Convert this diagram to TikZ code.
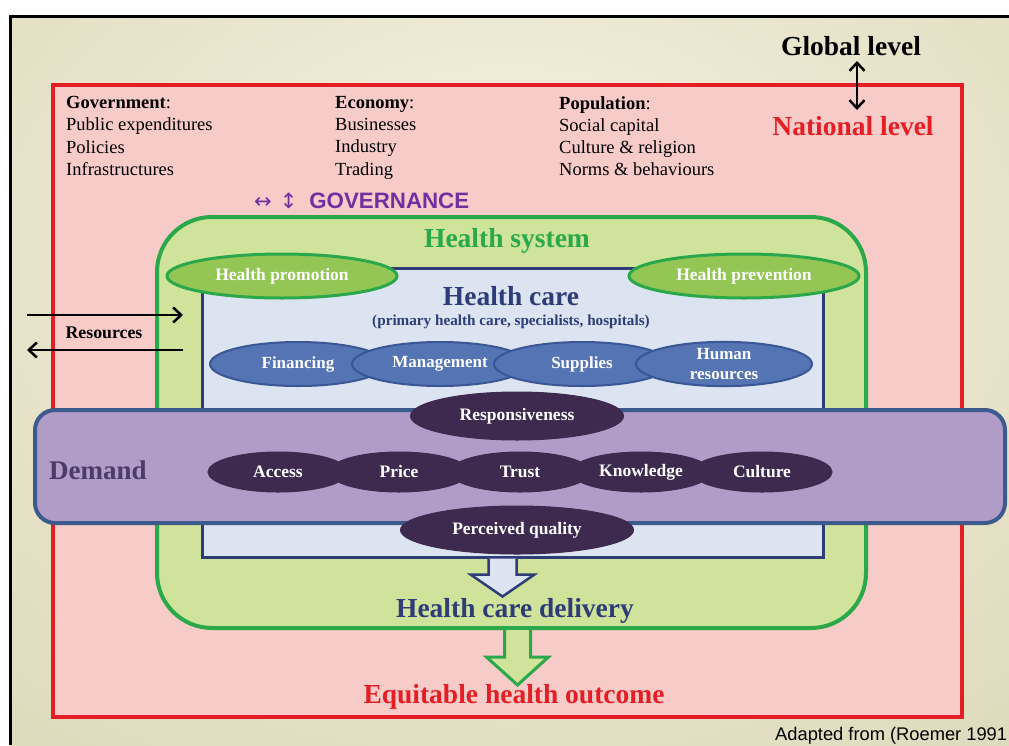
\documentclass[tikz,border=0pt]{standalone}
\usepackage{fontspec}
\setmainfont{Liberation Serif}
\newfontfamily\arialfont{Liberation Sans}
\newfontfamily\symfont{DejaVu Sans}
\usetikzlibrary{positioning,shapes.geometric,arrows.meta}
\definecolor{bgin}{HTML}{F4F1E0}
\definecolor{bgout}{HTML}{D6D2AF}
\definecolor{pinkfill}{HTML}{F7CBC8}
\definecolor{natred}{HTML}{E31E24}
\definecolor{hsgreen}{HTML}{2AA84A}
\definecolor{hsfill}{HTML}{D0E39B}
\definecolor{bubgreen}{HTML}{93C655}
\definecolor{hcfill}{HTML}{DBE4F0}
\definecolor{hcnavy}{HTML}{2E3D78}
\definecolor{bluefill}{HTML}{5474B4}
\definecolor{bluedge}{HTML}{3A5795}
\definecolor{dmfill}{HTML}{B09CC6}
\definecolor{dmedge}{HTML}{3D5A8C}
\definecolor{dmtext}{HTML}{4B3B68}
\definecolor{darkfill}{HTML}{3E2A4E}
\definecolor{govpurple}{HTML}{7030A0}
\pgfdeclareradialshading{bgshade}{\pgfpoint{0bp}{12bp}}{color(0bp)=(bgin); color(55bp)=(bgout); color(80bp)=(bgout)}
\newcommand*{\fsz}[2]{\fontsize{#1}{#2}\selectfont}
\tikzset{
  listtext/.style={anchor=north west, align=left, inner sep=0pt, font=\fsz{18.5}{22.3}},
  bigtitle/.style={inner sep=0pt, font=\bfseries\fsz{27.5}{30}},
  greenbub/.style={ellipse, draw=hsgreen, fill=bubgreen, line width=3pt, text=white,
    font=\bfseries\fsz{17.5}{18}, minimum width=230pt, minimum height=44pt, inner sep=0pt},
  bluebub/.style={ellipse, draw=bluedge, fill=bluefill, line width=2pt, text=white, align=center,
    font=\bfseries\fsz{17}{20}, minimum width=176pt, minimum height=44pt, inner sep=0pt},
  darkbub/.style={ellipse, draw=darkfill, fill=darkfill, line width=1pt, text=white,
    font=\bfseries\fsz{17.5}{18}, minimum width=140pt, minimum height=40pt, inner sep=0pt},
  levelarrow/.style={line width=2.5pt, {Straight Barb[length=8pt,width=15pt]}-{Straight Barb[length=8pt,width=15pt]}},
  resarrow/.style={line width=2.5pt, -{Straight Barb[length=8pt,width=15pt]}}
}
\begin{document}
\begin{tikzpicture}[x=1pt, y=-1pt]
\useasboundingbox (0,0) rectangle (1009,745);
\fill[white] (0,0) rectangle (1009,745);
\shade[shading=bgshade] (10,16) rectangle (1009,745);
\draw[line width=3pt] (1009,16) -- (10,16) -- (10,745);

\node (NL) [draw=natred, fill=pinkfill, line width=4pt, minimum width=909pt, minimum height=632pt] at (507.5,401) {};
\node (GLtext) [bigtitle] at (851,46) {Global level};
\node (NLtext) [bigtitle, text=natred] at (853,126) {National level};
\coordinate (GLa) at (857,61);
\coordinate (GLb) at (857,110);
\draw[levelarrow] (GLa) -- (GLb);

\node (GOV) [listtext] at (66,96) {\textbf{Government}:\\Public expenditures\\Policies\\Infrastructures};
\node (ECO) [listtext] at (335,96) {\textbf{Economy}:\\Businesses\\Industry\\Trading};
\node (POP) [listtext] at (559,96) {\textbf{Population}:\\Social capital\\Culture \& religion\\Norms \& behaviours};
\node (GVN) [anchor=west, inner sep=0pt, text=govpurple] at (254,201) {{\symfont\fsz{21}{21}↔\hspace{8pt}↕}\hspace{12pt}{\arialfont\bfseries\fsz{22.3}{24}GOVERNANCE}};

\node (HS) [draw=hsgreen, fill=hsfill, line width=4pt, rounded corners=55pt, minimum width=709pt, minimum height=411pt] at (511.5,422.5) {};
\node (HStext) [bigtitle, text=hsgreen] at (507,241) {Health system};
\node (HC) [draw=hcnavy, fill=hcfill, line width=3pt, minimum width=621pt, minimum height=289pt] at (512.5,412.5) {};
\node (HCtext) [inner sep=0pt, text=hcnavy, font=\bfseries\fsz{27.5}{30}] at (511,296) {Health care};
\node (HCsub) [inner sep=0pt, text=hcnavy, font=\bfseries\fsz{15.2}{17}] at (511,322) {(primary health care, specialists, hospitals)};
\node (PRO) [greenbub] at (282,276) {Health promotion};
\node (PRE) [greenbub] at (744,276) {Health prevention};

\node (FIN) [bluebub] at (298,364) {Financing};
\node (MGT) [bluebub, right=-36pt of FIN] {Management};
\node (SUP) [bluebub, right=-36pt of MGT] {Supplies};
\node (HR) [bluebub, right=-36pt of SUP] {Human\\resources};

\coordinate (RESa) at (27,315);
\coordinate (RESb) at (183,315);
\coordinate (RESc) at (183,350);
\coordinate (RESd) at (27,350);
\draw[resarrow] (RESa) -- (RESb);
\draw[resarrow] (RESc) -- (RESd);
\node (RES) [inner sep=0pt, font=\bfseries\fsz{17.8}{20}] at (104,333) {Resources};

\node (DM) [draw=dmedge, fill=dmfill, line width=4pt, rounded corners=20pt, minimum width=970pt, minimum height=113pt] at (520,466.5) {};
\node (DMtext) [inner sep=0pt, text=dmtext, font=\bfseries\fsz{27}{30}] at (98,470) {Demand};
\node (RSP) [darkbub, minimum width=213pt, minimum height=48pt] at (517,416) {Responsiveness};
\node (ACC) [darkbub] at (278,472) {Access};
\node (PRI) [darkbub, right=-20pt of ACC] {Price};
\node (TRU) [darkbub, right=-20pt of PRI] {Trust};
\node (KNO) [darkbub, right=-20pt of TRU] {Knowledge};
\node (CUL) [darkbub, right=-20pt of KNO] {Culture};
\node (PQ) [darkbub, minimum width=233pt, minimum height=48pt] at (517,530) {Perceived quality};

\draw[draw=hcnavy, fill=hcfill, line width=2.5pt, line join=miter]
  ([xshift=-10pt]HC.south) ++(-14,0) -- ++(0,16) -- ++(-18,0) -- ++(32,22) -- ++(32,-22) -- ++(-18,0) -- ++(0,-16);
\node (DEL) [inner sep=0pt, text=hcnavy, font=\bfseries\fsz{27.5}{30}] at (515,611) {Health care delivery};
\draw[draw=hsgreen, fill=hsfill, line width=3pt, line join=miter]
  ([xshift=6pt]HS.south) ++(-13,0) -- ++(0,27) -- ++(-18,0) -- ++(31,28) -- ++(31,-28) -- ++(-18,0) -- ++(0,-27);
\node (OUT) [inner sep=0pt, text=natred, font=\bfseries\fsz{27.5}{30}] at (514,697) {Equitable health outcome};
\node (SRC) [anchor=west, inner sep=0pt, font=\arialfont\fsz{18.3}{20}] at (775,736) {Adapted from (Roemer 1991};
\end{tikzpicture}
\end{document}
